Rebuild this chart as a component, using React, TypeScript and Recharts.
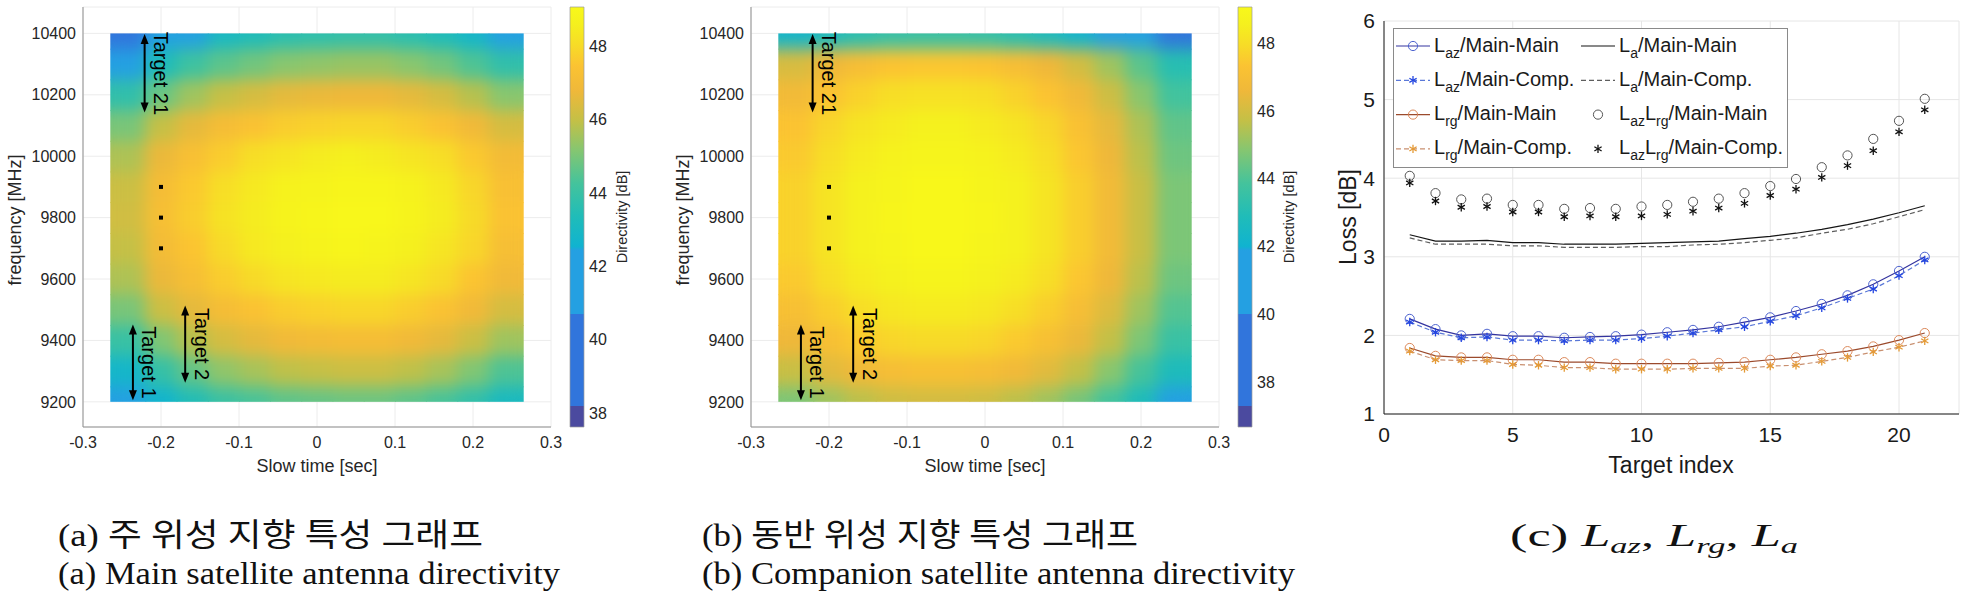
import React from 'react'
import {
  ScatterChart, Scatter, LineChart, Line, ComposedChart, XAxis, YAxis, CartesianGrid,
  ReferenceDot, ReferenceArea, Legend,
} from 'recharts'

// ---------- heatmap data (a) main, (b) companion ----------
const slowTime = [-0.24, -0.2, -0.16, -0.12, -0.08, -0.04, 0, 0.04, 0.08, 0.12, 0.16, 0.2, 0.24]
const frequency = [10400, 10300, 10200, 10100, 10000, 9900, 9800, 9700, 9600, 9500, 9400, 9300, 9200]

const mainDirectivity = [
  [40.4, 41.3, 42.3, 43.0, 43.3, 43.6, 43.7, 43.8, 43.8, 43.6, 43.3, 42.8, 42.2],
  [42.2, 43.3, 44.1, 44.6, 44.9, 45.2, 45.3, 45.4, 45.4, 45.2, 44.9, 44.4, 43.8],
  [43.8, 44.8, 45.5, 46.0, 46.3, 46.6, 46.7, 46.8, 46.8, 46.6, 46.3, 45.8, 45.2],
  [45.0, 46.0, 46.6, 47.1, 47.4, 47.7, 47.8, 47.9, 47.9, 47.7, 47.4, 46.9, 46.3],
  [45.7, 46.7, 47.3, 47.7, 48.1, 48.3, 48.5, 48.6, 48.5, 48.3, 48.1, 47.6, 47.0],
  [46.1, 47.1, 47.6, 48.1, 48.4, 48.7, 48.8, 48.9, 48.9, 48.7, 48.4, 47.9, 47.3],
  [46.2, 47.2, 47.7, 48.2, 48.5, 48.8, 48.9, 49.0, 49.0, 48.8, 48.5, 48.0, 47.4],
  [46.0, 47.0, 47.5, 48.0, 48.4, 48.6, 48.8, 48.9, 48.8, 48.6, 48.3, 47.9, 47.2],
  [45.7, 46.7, 47.2, 47.7, 48.0, 48.3, 48.4, 48.5, 48.5, 48.3, 48.0, 47.5, 46.9],
  [45.0, 46.1, 46.6, 47.1, 47.4, 47.7, 47.8, 47.9, 47.9, 47.7, 47.4, 46.9, 46.3],
  [44.0, 45.1, 45.8, 46.3, 46.6, 46.9, 47.0, 47.1, 47.1, 46.9, 46.6, 46.1, 45.5],
  [42.8, 43.9, 44.7, 45.3, 45.6, 45.9, 46.0, 46.1, 46.1, 45.9, 45.6, 45.1, 44.4],
  [41.5, 42.6, 43.4, 44.0, 44.3, 44.6, 44.7, 44.8, 44.8, 44.6, 44.3, 43.8, 43.1],
]

const compDirectivity = [
  [42.2, 42.7, 43.1, 43.4, 43.5, 43.5, 43.4, 43.1, 42.7, 42.1, 41.3, 40.3, 39.2],
  [46.1, 46.6, 47.0, 47.3, 47.4, 47.4, 47.3, 47.0, 46.6, 46.0, 45.2, 44.2, 43.1],
  [46.8, 47.3, 47.7, 48.0, 48.1, 48.1, 48.0, 47.7, 47.3, 46.7, 45.9, 44.9, 43.8],
  [47.3, 47.8, 48.2, 48.4, 48.6, 48.6, 48.4, 48.2, 47.8, 47.2, 46.4, 45.4, 44.3],
  [47.5, 48.0, 48.4, 48.7, 48.8, 48.8, 48.7, 48.4, 48.0, 47.4, 46.6, 45.6, 44.5],
  [47.7, 48.2, 48.6, 48.8, 49.0, 49.0, 48.8, 48.6, 48.2, 47.6, 46.8, 45.8, 44.7],
  [47.7, 48.2, 48.6, 48.9, 49.0, 49.0, 48.9, 48.6, 48.2, 47.6, 46.8, 45.8, 44.7],
  [47.7, 48.2, 48.6, 48.8, 49.0, 49.0, 48.8, 48.6, 48.2, 47.6, 46.8, 45.8, 44.7],
  [47.5, 48.0, 48.4, 48.6, 48.8, 48.8, 48.6, 48.4, 48.0, 47.4, 46.6, 45.6, 44.5],
  [47.1, 47.6, 48.0, 48.3, 48.4, 48.4, 48.3, 48.0, 47.6, 47.0, 46.2, 45.2, 44.1],
  [46.6, 47.1, 47.5, 47.8, 47.9, 47.9, 47.8, 47.5, 47.1, 46.5, 45.7, 44.7, 43.6],
  [45.8, 46.3, 46.7, 47.0, 47.1, 47.1, 47.0, 46.7, 46.3, 45.7, 44.9, 43.9, 42.8],
  [44.7, 45.2, 45.6, 45.9, 46.0, 46.0, 45.9, 45.6, 45.2, 44.6, 43.8, 42.8, 41.7],
]

const mainRange: [number, number] = [37.62, 49.07]
const compRange: [number, number] = [36.69, 49.06]

const slowTimeTicks = [-0.3, -0.2, -0.1, 0, 0.1, 0.2, 0.3]
const freqTicks = [9200, 9400, 9600, 9800, 10000, 10200, 10400]
const colorbarTicks = [38, 40, 42, 44, 46, 48]

// annotation arrows (same in both maps)
const targets = [
  { label: 'Target 21', t: -0.221, f1: 10398, f2: 10142 },
  { label: 'Target 1', t: -0.236, f1: 9452, f2: 9205 },
  { label: 'Target 2', t: -0.169, f1: 9514, f2: 9262 },
]
const ellipsisFreqs = [9900, 9800, 9700]

// ---------- loss data (c) ----------
const targetIndex = [1, 2, 3, 4, 5, 6, 7, 8, 9, 10, 11, 12, 13, 14, 15, 16, 17, 18, 19, 20, 21]
const lazMainMain = [2.21, 2.08, 2.0, 2.02, 1.99, 1.99, 1.97, 1.98, 1.99, 2.01, 2.04, 2.07, 2.11, 2.17, 2.23, 2.31, 2.4, 2.51, 2.65, 2.82, 3.0]
const lazMainComp = [2.17, 2.04, 1.97, 1.98, 1.94, 1.94, 1.93, 1.94, 1.94, 1.96, 1.99, 2.03, 2.07, 2.11, 2.18, 2.25, 2.35, 2.47, 2.59, 2.76, 2.96]
const lrgMainMain = [1.84, 1.74, 1.72, 1.72, 1.69, 1.69, 1.66, 1.66, 1.64, 1.64, 1.64, 1.64, 1.65, 1.66, 1.69, 1.72, 1.76, 1.8, 1.86, 1.94, 2.03]
const lrgMainComp = [1.8, 1.69, 1.68, 1.68, 1.63, 1.62, 1.59, 1.59, 1.57, 1.57, 1.57, 1.58, 1.58, 1.58, 1.61, 1.62, 1.67, 1.72, 1.79, 1.85, 1.93]
const laMainMain = [3.28, 3.2, 3.2, 3.21, 3.18, 3.18, 3.16, 3.16, 3.16, 3.17, 3.18, 3.19, 3.2, 3.23, 3.26, 3.3, 3.35, 3.41, 3.48, 3.56, 3.65]
const laMainComp = [3.24, 3.16, 3.16, 3.16, 3.14, 3.14, 3.12, 3.12, 3.12, 3.13, 3.13, 3.15, 3.16, 3.18, 3.21, 3.24, 3.3, 3.35, 3.42, 3.51, 3.6]
const lazLrgMainMain = [4.03, 3.81, 3.73, 3.74, 3.66, 3.66, 3.61, 3.62, 3.61, 3.64, 3.66, 3.7, 3.74, 3.81, 3.9, 3.99, 4.14, 4.29, 4.5, 4.73, 5.01]
const lazLrgMainComp = [3.94, 3.71, 3.63, 3.64, 3.57, 3.57, 3.51, 3.52, 3.51, 3.52, 3.54, 3.58, 3.62, 3.68, 3.78, 3.86, 4.01, 4.16, 4.35, 4.59, 4.87]

const targetTicks = [0, 5, 10, 15, 20]
const lossTicks = [1, 2, 3, 4, 5, 6]

const lossRows = targetIndex.map((idx, i) => ({
  idx,
  lazMM: lazMainMain[i], lazMC: lazMainComp[i],
  lrgMM: lrgMainMain[i], lrgMC: lrgMainComp[i],
  laMM: laMainMain[i], laMC: laMainComp[i],
  lazlrgMM: lazLrgMainMain[i], lazlrgMC: lazLrgMainComp[i],
}))

// ---------- styling ----------
const FONT = '"Liberation Sans", Arial, Helvetica, sans-serif'
const SERIF = '"Liberation Serif", "Times New Roman", "Noto Sans CJK KR", serif'
const INK = '#262626'

// parula-like colormap (with the coarse low-end bands of the figure)
const CMAP: [number, string][] = [
  [0, '#4b4a9f'], [0.05, '#4b4a9f'],
  [0.05, '#3175dc'], [0.27, '#3175dc'],
  [0.27, '#24a0e2'], [0.42, '#24a0e2'],
  [0.43, '#10b3d0'], [0.5, '#1fbcb9'], [0.58, '#44c39c'], [0.66, '#86c670'],
  [0.73, '#c4c046'], [0.8, '#efb83a'], [0.86, '#fbc332'], [0.91, '#f7dc27'], [0.96, '#f5f01e'], [1, '#f8f81a'],
]

const hex = (c: string) => [1, 3, 5].map((i) => parseInt(c.slice(i, i + 2), 16))
function colorAt(t: number) {
  const u = Math.min(1, Math.max(0, t))
  for (let i = 1; i < CMAP.length; i++) {
    const [t1, c1] = CMAP[i]
    if (u <= t1) {
      const [t0, c0] = CMAP[i - 1]
      const k = t1 > t0 ? (u - t0) / (t1 - t0) : 1
      const a = hex(c0)
      const b = hex(c1)
      return `rgb(${a.map((v, j) => Math.round(v + (b[j] - v) * k)).join(',')})`
    }
  }
  return CMAP[CMAP.length - 1][1]
}

// heatmap layout
const HEAT_W = 580
const HEAT_H = 480
const HEAT_MARGIN = { top: 7, right: 29, left: 0, bottom: 0 }
const HEAT_YAXIS_W = 83
const HEAT_XAXIS_H = 53
const T_DOMAIN: [number, number] = [-0.3, 0.3]
const F_DOMAIN: [number, number] = [9118, 10486]
const T_EXTENT: [number, number] = [-0.265, 0.265]
const F_EXTENT: [number, number] = [9200, 10400]
const CELL_T = 0.04
const CELL_F = 100
const PLOT_W = HEAT_W - HEAT_YAXIS_W - HEAT_MARGIN.right
const PLOT_H = HEAT_H - HEAT_MARGIN.top - HEAT_XAXIS_H
const PX_PER_SEC = PLOT_W / (T_DOMAIN[1] - T_DOMAIN[0])
const PX_PER_MHZ = PLOT_H / (F_DOMAIN[1] - F_DOMAIN[0])

const heatCell = (range: [number, number]) => (p: any) => {
  const { cx, cy, payload } = p
  const { t, f, d } = payload
  const lastT = t === slowTime[slowTime.length - 1]
  const lastF = f === frequency[frequency.length - 1]
  const left = t === slowTime[0] ? T_EXTENT[0] : t - CELL_T / 2
  const right = lastT ? T_EXTENT[1] : t + CELL_T / 2
  const top = f === frequency[0] ? F_EXTENT[1] : f + CELL_F / 2
  const bottom = lastF ? F_EXTENT[0] : f - CELL_F / 2
  const x = cx + (left - t) * PX_PER_SEC
  const y = cy - (top - f) * PX_PER_MHZ
  const w = (right - left) * PX_PER_SEC + (lastT ? 0 : 0.8)
  const h = (top - bottom) * PX_PER_MHZ + (lastF ? 0 : 0.8)
  return <rect x={x} y={y} width={w} height={h} fill={colorAt((d - range[0]) / (range[1] - range[0]))} />
}

// double arrow drawn around its centre point (given by the reference dot)
const arrowShape = (label: string, spanMHz: number) => (p: any) => {
  const { cx, cy } = p
  const half = (spanMHz / 2) * PX_PER_MHZ
  const top = cy - half
  const bot = cy + half
  return (
    <g>
      <line x1={cx} y1={top + 6} x2={cx} y2={bot - 6} stroke="#000" strokeWidth={2} />
      <path d={`M${cx},${top} l-4,10 h8 z`} fill="#000" />
      <path d={`M${cx},${bot} l-4,-10 h8 z`} fill="#000" />
      <text
        transform={`translate(${cx + 16.5},${cy}) rotate(90)`}
        textAnchor="middle" dominantBaseline="central"
        fontSize={20} fontFamily={FONT} fill="#000"
      >
        {label}
      </text>
    </g>
  )
}

const squareDot = (p: any) => <rect x={p.cx - 2} y={p.cy - 2} width={4} height={4} fill="#000" />

function DirectivityMap({ left, grid, range }: { left: number; grid: number[][]; range: [number, number] }) {
  const cells = frequency.flatMap((f, i) => slowTime.map((t, j) => ({ t, f, d: grid[i][j] })))
  const tick = { fontSize: 16, fill: INK, fontFamily: FONT }
  return (
    <div className="heat-panel" style={{ position: 'absolute', left, top: 0 }}>
      <ScatterChart width={HEAT_W} height={HEAT_H} margin={HEAT_MARGIN}>
        <CartesianGrid stroke="#ececec" />
        <XAxis
          type="number" dataKey="t" domain={T_DOMAIN} ticks={slowTimeTicks} interval={0}
          allowDataOverflow height={HEAT_XAXIS_H} tickSize={0} tickMargin={10}
          axisLine={{ stroke: '#8f8f8f' }} tick={tick}
        />
        <YAxis
          type="number" dataKey="f" domain={F_DOMAIN} ticks={freqTicks} interval={0}
          allowDataOverflow width={HEAT_YAXIS_W} tickSize={0} tickMargin={7}
          axisLine={{ stroke: '#8f8f8f' }} tick={tick}
        />
        <Scatter data={cells} shape={heatCell(range)} isAnimationActive={false} className="heatmap" />
        {targets.map((tg) => (
          <ReferenceDot
            key={tg.label}
            x={tg.t}
            y={(tg.f1 + tg.f2) / 2}
            r={1}
            shape={arrowShape(tg.label, tg.f1 - tg.f2)}
          />
        ))}
        {ellipsisFreqs.map((f) => (
          <ReferenceDot key={f} x={-0.2} y={f} r={2} shape={squareDot} />
        ))}
      </ScatterChart>
    </div>
  )
}

function Colorbar({ left, range }: { left: number; range: [number, number] }) {
  return (
    <div style={{ position: 'absolute', left, top: 0 }}>
      <ComposedChart
        width={90} height={440} data={[{ x: 0 }, { x: 1 }]}
        margin={{ top: 7, right: 0, left: 10, bottom: 13 }}
      >
        <XAxis type="number" dataKey="x" domain={[0, 1]} hide />
        <YAxis
          type="number" orientation="right" domain={range} ticks={colorbarTicks} interval={0}
          allowDataOverflow width={66} tickSize={4} tickMargin={1} axisLine={false}
          tickLine={false} tick={{ fontSize: 16, fill: INK, fontFamily: FONT }}
        />
        <ReferenceArea
          y1={range[0]} y2={range[1]} ifOverflow="extendDomain"
          fill="url(#parulaGrad)" fillOpacity={1} stroke="#9c9c9c" strokeWidth={0.7}
        />
      </ComposedChart>
    </div>
  )
}

// ---------- loss chart series ----------
type Marker = 'circle' | 'star' | 'none'
const SERIES: { key: string; stroke: string; dash?: string; marker: Marker; mColor: string; parts: string[] }[] = [
  { key: 'lazMM', stroke: '#34349f', marker: 'circle', mColor: '#4d63cf', parts: ['L', 'az', '/Main-Main'] },
  { key: 'lazMC', stroke: '#5a78d8', dash: '5 3', marker: 'star', mColor: '#2446e0', parts: ['L', 'az', '/Main-Comp.'] },
  { key: 'lrgMM', stroke: '#9b4a2c', marker: 'circle', mColor: '#dc8a5c', parts: ['L', 'rg', '/Main-Main'] },
  { key: 'lrgMC', stroke: '#c99070', dash: '5 3', marker: 'star', mColor: '#e49a36', parts: ['L', 'rg', '/Main-Comp.'] },
  { key: 'laMM', stroke: '#151515', marker: 'none', mColor: '#000', parts: ['L', 'a', '/Main-Main'] },
  { key: 'laMC', stroke: '#5e5e5e', dash: '5 3', marker: 'none', mColor: '#000', parts: ['L', 'a', '/Main-Comp.'] },
  { key: 'lazlrgMM', stroke: 'none', marker: 'circle', mColor: '#555', parts: ['L', 'az', 'L', 'rg', '/Main-Main'] },
  { key: 'lazlrgMC', stroke: 'none', marker: 'star', mColor: '#111', parts: ['L', 'az', 'L', 'rg', '/Main-Comp.'] },
]

function markerGlyph(kind: Marker, color: string, cx: number, cy: number, k?: string) {
  if (kind === 'circle') return <circle key={k} cx={cx} cy={cy} r={4.6} fill="none" stroke={color} strokeWidth={1} />
  if (kind === 'star') {
    return (
      <g key={k} stroke={color} strokeWidth={1.3}>
        {[90, 30, 150].map((a) => {
          const dx = 4.2 * Math.cos((a * Math.PI) / 180)
          const dy = 4.2 * Math.sin((a * Math.PI) / 180)
          return <line key={a} x1={cx - dx} y1={cy - dy} x2={cx + dx} y2={cy + dy} />
        })}
      </g>
    )
  }
  return <g key={k} />
}

function LegendBox() {
  return (
    <svg width={396} height={141} style={{ display: 'block' }}>
      <rect x={0.5} y={0.5} width={394} height={139} fill="#fff" stroke="#8a8a8a" strokeWidth={1} />
      {SERIES.map((s, i) => {
        const col = Math.floor(i / 4)
        const row = i % 4
        const x0 = col === 0 ? 3 : 188
        const ly = 18 + row * 34.3
        const base = ly + 5.5
        return (
          <g key={s.key}>
            {s.stroke !== 'none' && (
              <line x1={x0} y1={ly} x2={x0 + 34} y2={ly} stroke={s.stroke} strokeWidth={1.2} strokeDasharray={s.dash} />
            )}
            {markerGlyph(s.marker, s.mColor, x0 + 17, ly)}
            <text x={x0 + 38} y={base} fontSize={20} fontFamily={FONT} fill="#1a1a1a">
              {s.parts.map((part, j) => {
                const isSub = j % 2 === 1 && j < s.parts.length - 1
                const prevSub = j > 0 && (j - 1) % 2 === 1
                return (
                  <tspan key={j} fontSize={isSub ? 14 : 20} dy={isSub ? 6 : prevSub ? -6 : 0}>
                    {part}
                  </tspan>
                )
              })}
            </text>
          </g>
        )
      })}
    </svg>
  )
}

function LossChart() {
  const tick = { fontSize: 21, fill: '#1a1a1a', fontFamily: FONT }
  return (
    <div style={{ position: 'absolute', left: 1290, top: 0 }}>
      <LineChart width={679} height={480} data={lossRows} margin={{ top: 21, right: 10, left: 0, bottom: 0 }}>
        <CartesianGrid stroke="#e6e6e6" />
        <XAxis
          type="number" dataKey="idx" domain={[0, 22.33]} ticks={targetTicks} interval={0}
          allowDataOverflow height={66} tickSize={0} tickMargin={13}
          axisLine={{ stroke: '#1a1a1a' }} tick={tick}
        />
        <YAxis
          type="number" domain={[1, 6]} ticks={lossTicks} interval={0} allowDataOverflow
          width={94} tickSize={0} tickMargin={9} axisLine={{ stroke: '#1a1a1a' }} tick={tick}
        />
        <Legend
          layout="horizontal" verticalAlign="middle" align="center"
          wrapperStyle={{ left: 103, top: 28, width: 396, height: 141 }}
          content={() => <LegendBox />}
        />
        {SERIES.map((s) => (
          <Line
            key={s.key}
            type="linear"
            dataKey={s.key}
            stroke={s.stroke}
            strokeWidth={1.2}
            strokeDasharray={s.dash}
            dot={s.marker === 'none' ? false : (p: any) => markerGlyph(s.marker, s.mColor, p.cx, p.cy, `${s.key}-${p.index}`)}
            activeDot={false}
            isAnimationActive={false}
          />
        ))}
      </LineChart>
    </div>
  )
}

export default function App() {
  return (
    <div style={{ position: 'absolute', left: 0, top: 0, width: 1969, height: 599, background: '#fff', overflow: 'hidden', fontFamily: FONT }}>
      <style>{'.heat-panel .recharts-scatter{filter:url(#heatSmooth)}'}</style>
      <svg width={0} height={0} style={{ position: 'absolute' }}>
        <defs>
          <linearGradient id="parulaGrad" x1="0" y1="1" x2="0" y2="0">
            {CMAP.map(([t, c], i) => <stop key={i} offset={t} stopColor={c} />)}
          </linearGradient>
          <filter id="heatSmooth" x="-5%" y="-5%" width="110%" height="110%" colorInterpolationFilters="sRGB">
            <feGaussianBlur in="SourceGraphic" stdDeviation="8" result="blur" />
            <feComponentTransfer in="blur" result="solid">
              <feFuncA type="linear" slope="40" intercept="0" />
            </feComponentTransfer>
            <feComposite in="solid" in2="SourceGraphic" operator="in" />
          </filter>
        </defs>
      </svg>

      <DirectivityMap left={0} grid={mainDirectivity} range={mainRange} />
      <Colorbar left={560} range={mainRange} />
      <DirectivityMap left={668} grid={compDirectivity} range={compRange} />
      <Colorbar left={1228} range={compRange} />
      <LossChart />

      <svg width={1969} height={599} style={{ position: 'absolute', left: 0, top: 0, pointerEvents: 'none' }}>
        <g fontFamily={FONT} fill={INK}>
          <text transform="translate(15,220) rotate(-90)" textAnchor="middle" dominantBaseline="central" fontSize={18}>frequency [MHz]</text>
          <text transform="translate(683,220) rotate(-90)" textAnchor="middle" dominantBaseline="central" fontSize={18}>frequency [MHz]</text>
          <text x={317} y={466} textAnchor="middle" dominantBaseline="central" fontSize={18}>Slow time [sec]</text>
          <text x={985} y={466} textAnchor="middle" dominantBaseline="central" fontSize={18}>Slow time [sec]</text>
          <text transform="translate(622,217) rotate(-90)" textAnchor="middle" dominantBaseline="central" fontSize={14.5}>Directivity [dB]</text>
          <text transform="translate(1289,217) rotate(-90)" textAnchor="middle" dominantBaseline="central" fontSize={14.5}>Directivity [dB]</text>
          <text transform="translate(1348,217) rotate(-90)" textAnchor="middle" dominantBaseline="central" fontSize={23} fill="#1a1a1a">Loss [dB]</text>
          <text x={1671} y={465} textAnchor="middle" dominantBaseline="central" fontSize={23} fill="#1a1a1a">Target index</text>
        </g>
        <g fontFamily={SERIF} fill="#111" fontSize={32}>
          <text x={58} y={546} textLength={425} lengthAdjust="spacingAndGlyphs">(a) 주 위성 지향 특성 그래프</text>
          <text x={58} y={584} textLength={502} lengthAdjust="spacingAndGlyphs">(a) Main satellite antenna directivity</text>
          <text x={702} y={546} textLength={436} lengthAdjust="spacingAndGlyphs">(b) 동반 위성 지향 특성 그래프</text>
          <text x={702} y={584} textLength={593} lengthAdjust="spacingAndGlyphs">(b) Companion satellite antenna directivity</text>
          <text x={1510} y={546} textLength={288} lengthAdjust="spacingAndGlyphs">
            (c) <tspan fontStyle="italic">L</tspan>
            <tspan fontStyle="italic" fontSize={21} dy={7}>az</tspan>
            <tspan dy={-7}>, </tspan>
            <tspan fontStyle="italic">L</tspan>
            <tspan fontStyle="italic" fontSize={21} dy={7}>rg</tspan>
            <tspan dy={-7}>, </tspan>
            <tspan fontStyle="italic">L</tspan>
            <tspan fontStyle="italic" fontSize={21} dy={7}>a</tspan>
          </text>
        </g>
      </svg>
    </div>
  )
}
